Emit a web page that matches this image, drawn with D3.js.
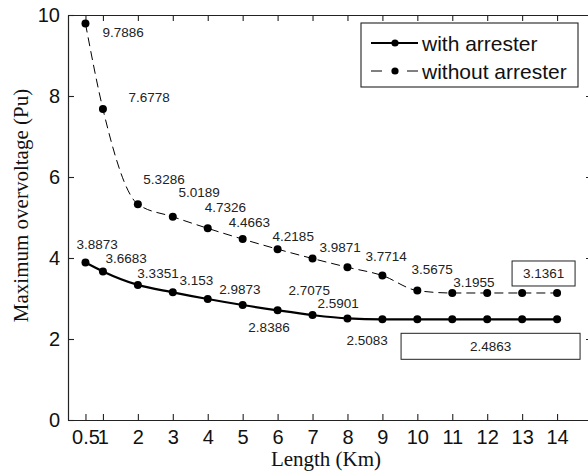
<!DOCTYPE html>
<html>
<head>
<meta charset="utf-8">
<script src="https://cdn.jsdelivr.net/npm/d3@7"></script>
<style>
  html, body { margin: 0; padding: 0; background: #fff; }
  svg { display: block; }
</style>
</head>
<body>
<svg id="chart" width="588" height="475"></svg>
<script>
// ---- data ----
const lengths = [0.5, 1, 2, 3, 4, 5, 6, 7, 8, 9, 10, 11, 12, 13, 14];
const withArrester = [3.8873, 3.6683, 3.3351, 3.153, 2.9873, 2.8386, 2.7075, 2.5901, 2.5083,
                      2.4863, 2.4863, 2.4863, 2.4863, 2.4863, 2.4863];
const withoutArrester = [9.7886, 7.6778, 5.3286, 5.0189, 4.7326, 4.4663, 4.2185, 3.9871, 3.7714,
                         3.5675, 3.1955, 3.1361, 3.1361, 3.1361, 3.1361];
const xTickValues = [0.5, 1, 2, 3, 4, 5, 6, 7, 8, 9, 10, 11, 12, 13, 14];
const yTickValues = [0, 2, 4, 6, 8, 10];
const seriesNames = ["with arrester", "without arrester"];
const xTitle = "Length (Km)";
const yTitle = "Maximum overvoltage (Pu)";

// ---- layout ----
const W = 588, H = 475;
const plot = { left: 68, right: 592, top: 15, bottom: 420 };
const SANS = "'Liberation Sans', Arial, Helvetica, sans-serif";
const SERIF = "'Liberation Serif', 'Times New Roman', Times, serif";

// value-label offsets (px) from each point; null = no label
const withoutLabelOffsets = [[17, 13.5], [25.5, -7], [5.5, -20], [5.6, -20], [-3, -16], [-14, -12],
  [-5, -8], [7, -7], [18, -6], [29, -1.5], [36, -3.6], null, null, null, null];
const withLabelOffsets = [[-9, -13.6], [2.5, -8.4], [-0.5, -7], [6.6, -7], [11.6, -5], [5.7, 27],
  [11, -15], [5, -7], [-1, 26.6], null, null, null, null, null, null];
// boxed labels for the flat tails: anchor index, box offset/size in px
const boxedLabels = [
  { values: withoutArrester, index: 14, box: [-45, -32, 63, 25] },
  { values: withArrester, index: 14, box: [-156, 14, 179, 26] }
];

const svg = d3.select("#chart");

const x = d3.scaleLinear().domain([0, 15]).range([plot.left, plot.right]);
const y = d3.scaleLinear().domain([0, 10]).range([plot.bottom, plot.top]);

// ---- axes (ticks point inward, box on all four sides) ----
const fmtX = d => (d === 0.5 ? "0.5" : String(d));

const gBottom = svg.append("g").attr("transform", `translate(0,${plot.bottom})`)
  .call(d3.axisBottom(x).tickValues(xTickValues).tickFormat(fmtX)
    .tickSizeInner(-6).tickSizeOuter(0).tickPadding(10));
const gLeft = svg.append("g").attr("transform", `translate(${plot.left},0)`)
  .call(d3.axisLeft(y).tickValues(yTickValues)
    .tickSizeInner(-6).tickSizeOuter(0).tickPadding(8));
const gTop = svg.append("g").attr("transform", `translate(0,${plot.top})`)
  .call(d3.axisTop(x).tickValues(xTickValues).tickFormat("")
    .tickSizeInner(-6).tickSizeOuter(0));
const gRight = svg.append("g").attr("transform", `translate(${plot.right},0)`)
  .call(d3.axisRight(y).tickValues(yTickValues).tickFormat("")
    .tickSizeInner(-6).tickSizeOuter(0));

[gBottom, gLeft, gTop, gRight].forEach(g => {
  g.select(".domain").attr("stroke", "#222").attr("stroke-width", 1.2);
  g.selectAll(".tick line").attr("stroke", "#222").attr("stroke-width", 1.1);
  g.selectAll(".tick text").attr("fill", "#111")
    .style("font-family", SANS).style("font-size", "20px");
});

// axis titles
svg.append("text")
  .attr("x", 326).attr("y", 466)
  .attr("text-anchor", "middle")
  .style("font-family", SERIF).style("font-size", "21px").attr("fill", "#111")
  .text(xTitle);
svg.append("text")
  .attr("transform", `translate(28,${(plot.top + plot.bottom) / 2 - 12}) rotate(-90)`)
  .attr("text-anchor", "middle")
  .style("font-family", SERIF).style("font-size", "21px").attr("fill", "#111")
  .text(yTitle);

// ---- series ----
const line = d3.line()
  .x((d, i) => x(lengths[i]))
  .y(d => y(d))
  .curve(d3.curveMonotoneX);

svg.append("path").datum(withoutArrester)
  .attr("d", line).attr("fill", "none")
  .attr("stroke", "#000").attr("stroke-width", 1)
  .attr("stroke-dasharray", "9,5");

svg.append("path").datum(withArrester)
  .attr("d", line).attr("fill", "none")
  .attr("stroke", "#000").attr("stroke-width", 2.2);

[withoutArrester, withArrester].forEach(vals => {
  svg.append("g").selectAll("circle").data(vals).join("circle")
    .attr("cx", (d, i) => x(lengths[i]))
    .attr("cy", d => y(d))
    .attr("r", 4)
    .attr("fill", "#000");
});

// ---- value labels ----
function drawLabels(vals, offsets) {
  svg.append("g").selectAll("text")
    .data(vals.map((v, i) => ({ v, i, o: offsets[i] })).filter(d => d.o))
    .join("text")
    .attr("x", d => x(lengths[d.i]) + d.o[0])
    .attr("y", d => y(d.v) + d.o[1])
    .style("font-family", SANS).style("font-size", "13.5px")
    .attr("fill", "#222")
    .text(d => String(d.v));
}
drawLabels(withoutArrester, withoutLabelOffsets);
drawLabels(withArrester, withLabelOffsets);

boxedLabels.forEach(b => {
  const px = x(lengths[b.index]), py = y(b.values[b.index]);
  const [bx, by, bw, bh] = b.box;
  svg.append("rect")
    .attr("x", px + bx).attr("y", py + by).attr("width", bw).attr("height", bh)
    .attr("fill", "#fff").attr("stroke", "#222").attr("stroke-width", 1);
  svg.append("text")
    .attr("x", px + bx + bw / 2).attr("y", py + by + bh / 2 + 5)
    .attr("text-anchor", "middle")
    .style("font-family", SANS).style("font-size", "13.5px")
    .attr("fill", "#222")
    .text(String(b.values[b.index]));
});

// ---- legend ----
const legend = svg.append("g").attr("transform", "translate(361,23)");
legend.append("rect").attr("width", 217).attr("height", 64)
  .attr("fill", "#fff").attr("stroke", "#222").attr("stroke-width", 1.1);
const legendRows = [
  { name: seriesNames[0], width: 2.2, dash: null, y: 20 },
  { name: seriesNames[1], width: 1, dash: "11,25,11", y: 48 }
];
legendRows.forEach(r => {
  legend.append("line")
    .attr("x1", 10).attr("x2", 57).attr("y1", r.y).attr("y2", r.y)
    .attr("stroke", "#000").attr("stroke-width", r.width)
    .attr("stroke-dasharray", r.dash);
  legend.append("circle").attr("cx", 34).attr("cy", r.y).attr("r", 3.6).attr("fill", "#000");
  legend.append("text")
    .attr("x", 61).attr("y", r.y + 7.5)
    .style("font-family", SANS).style("font-size", "21px").attr("fill", "#111")
    .text(r.name);
});
</script>
</body>
</html>
